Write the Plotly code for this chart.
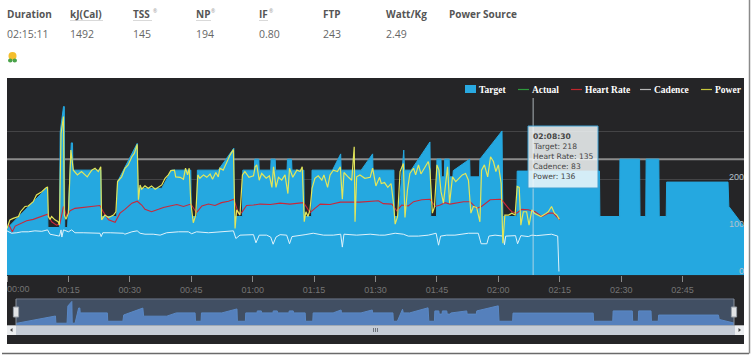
import plotly.graph_objects as go

W, H = 754, 357

# ---- data (minutes, watts / bpm / rpm) ----
target_t = [0,9.9,10,12.8,13.0,13.8,14.0,14.1,14.8,15.7,16.0,16.1,22.9,23.0,26.8,27,31.8,32,37.8,40.2,44.9,45,46.4,46.5,51.6,55.4,55.5,57.5,57.6,
            60.4,60.5,61.5,61.6,64.4,64.5,65.5,65.6,68.4,68.5,69.5,69.6,72.5,72.6,74.4,74.5,79.5,81.5,81.6,86.5,89.3,89.4,94.5,94.6,95.6,96.9,97.1,98.7,
            103.3,103.5,104.9,105,106,106.1,106.8,106.9,108,108.1,108.9,109,113,113.1,115.4,115.5,120.9,121.1,124.5,124.6,144.7,144.8,149.6,149.7,
            154.5,154.6,156,156.1,159.2,159.3,161,161.1,176.1,176.3,180]
target_v = [98,184,100,100,300,353,353,100,100,277,277,220,220,123,123,196,276,182,182,220,220,123,123,220,220,266,123,123,220,
            220,243,243,220,220,243,243,220,220,243,243,220,220,123,123,220,220,254,220,220,254,220,220,123,123,262,220,220,
            279,123,123,243,243,206,206,243,243,206,206,219,243,206,206,243,302,123,123,218,218,123,123,243,
            243,123,123,243,243,123,123,195,195,144,102]

power_t = [0,.7,1.5,2.8,3.3,4.4,5.2,6.4,7.2,8.5,9.4,9.9,10.1,10.5,10.9,11.7,12.5,12.8,13.2,13.8,14,14.4,15,15.6,16.2,17.2,18.2,19.6,20.7,21.5,22.3,22.9,23.1,23.9,24.8,26,26.6,27,28,28.8,
           29.6,30.5,31.1,31.8,32.1,32.5,32.9,33.7,34.5,35.3,36.2,37,37.8,38.6,39.4,40,40.9,41.2,42.3,43.1,43.6,44.1,44.5,44.9,45.5,46.1,46.6,47.1,48,48.8,49.6,50.2,51,51.6,52,52.8,53.7,54.5,55.3,55.7,56.1,56.9,57.5,58.1,59.1,60.2,
           60.6,61,61.6,62.2,63.3,64.1,64.7,65.1,65.7,66.3,67.1,67.9,68.6,69,69.8,70.8,71.6,72.1,72.6,73,73.5,74,74.5,75.2,76,76.9,77.4,78.3,78.9,79.7,80.7,81.4,81.9,82.3,83.4,84.2,84.8,85,85.4,86.2,87.4,88.7,89.3,90.1,91,
           91.4,92.2,93,93.8,94.4,94.8,95.4,96,96.8,97.2,97.8,98.4,99.3,99.8,100.5,101.1,102.1,102.9,103.3,103.9,104.4,105,105.5,106,106.6,107.2,107.6,108.1,108.8,109.6,110.4,111.2,112,112.7,113.3,113.9,114.7,115.5,115.9,116.6,117.4,118.1,118.8,119.4,120,120.7,
           121.1,121.6,122.5,123.3,124.1,124.6,125.1,125.5,126.1,126.9,127.5,128.2,128.8,129.6,130.4,131.4,132.2,133,133.7,134.3,134.9]
power_v = [98,116,119,123,133,144,145,154,168,175,182,185,123,117,123,116,112,105,297,332,126,117,130,262,220,210,217,206,220,224,217,227,116,126,121,126,133,196,206,224,
           231,248,255,274,158,189,180,187,182,187,180,184,189,203,210,219,220,206,205,201,224,210,224,151,110,126,210,203,210,205,212,201,215,206,224,220,238,252,263,98,137,126,210,217,205,208,
           227,231,199,213,203,208,184,227,184,205,199,210,171,224,205,220,217,227,112,133,123,137,182,203,208,199,210,184,210,220,217,227,159,215,205,199,269,112,206,210,203,205,224,187,205,
           192,194,184,192,151,107,123,217,234,121,178,213,224,210,231,212,227,238,220,130,143,231,220,175,151,199,227,151,206,196,203,210,213,199,130,144,142,112,220,231,206,248,238,217,231,192,
           67,126,126,130,126,186,184,105,133,133,105,137,130,126,123,128,133,144,130,126,117]

hr_t = [.3,1.3,2,3.2,4.8,6.4,8.1,9.9,10.9,12.1,12.9,13.8,14.6,15.4,16.6,18.6,20.7,22.7,23.5,24.8,26.4,27.6,28.8,
        30.5,31.8,32.9,33.7,35.3,37,38.2,39.8,41.5,43.1,44.9,46.3,47.6,49.2,50.8,52.4,54.1,55.4,56.5,57.3,58.5,60.2,
        61.8,64.3,66.7,69.1,72.4,73.2,74,75.2,76.5,78.9,81.4,83.8,86.2,90.7,
        91.9,94,95.2,96.4,98,99.3,101.3,103.3,104.6,105.8,107,108.2,109.8,111.5,113.1,114.7,115.9,118,120.4,
        120.8,122.5,123.3,124.5,125.7,127.3,128.5,129,130.6,132.2,133.4,135]
hr_v = [109,91,103,107,114,117,123,128,112,105,107,144,123,135,140,142,145,146,133,116,111,130,138,
        151,155,147,138,133,138,142,145,148,144,149,131,145,149,146,152,155,159,130,131,146,147,
        149,148,151,149,152,142,131,140,149,148,153,153,153,156,
        150,149,135,147,145,154,158,159,144,147,152,149,151,154,154,140,144,158,159,
        158,140,133,130,138,137,135,133,123,130,130,116]

cad_t = [0,1.1,2.4,3.6,5.2,6.8,8.5,9.9,10.5,11.7,12.8,13.2,13.4,13.8,15,15.8,16.6,18.6,21.1,22.7,23,23.4,25.2,26.8,28.4,
         28.8,30.5,31.8,32.5,33.7,35.7,37.4,39,41.9,44.3,45.1,46.3,49.2,52.4,55.3,55.9,56.9,60.2,
         60.8,61.6,63.4,64.4,65,65.7,66.7,68.3,69,69.6,71.6,72.8,74.8,77.3,79.7,81.5,81.9,82.3,85.4,88.7,91,
         92.3,94.8,96.8,98,100.5,102.9,104.8,105.4,105.9,107.4,109.4,112.7,115.1,115.8,117.2,117.7,119.2,121.2,
         121.5,121.8,123.7,124.2,124.7,125.5,127.3,128.2,129.4,131.4,133,134.5,134.7,134.8]
cad_v = [93,88,89,91,91,93,92,95,86,84,82,95,80,95,91,95,89,89,88,88,81,89,89,89,88,
         86,91,93,88,86,86,84,89,91,91,87,91,89,91,93,77,84,85,
         68,84,84,80,65,80,85,84,66,81,83,85,88,84,84,86,59,86,84,86,84,
         84,88,86,82,82,84,88,63,82,84,84,88,88,66,66,82,84,82,
         64,82,84,83,66,83,81,84,83,84,86,82,18,8]

x_tick_vals = [0,15,30,45,60,75,90,105,120,135,150,165]
x_tick_text = ["","00:15","00:30","00:45","01:00","01:15","01:30","01:45","02:00","02:15","02:30","02:45"]
y_tick_vals = [0,100,200,300]
y_tick_text = ["","100","200",""]
ftp_line = 243
cursor_t = 128.5

header_labels = ["Duration","kJ(Cal)","TSS","NP","IF","FTP","Watt/Kg","Power Source"]
header_values = ["02:15:11","1492","145","194","0.80","243","2.49",""]
header_x = [7,70,133,196,259,322.5,386,449]
header_marked = [False,True,True,True,True,False,False,False]

tooltip_lines = ["<b>02:08:30</b>","Target: 218","Heart Rate: 135","Cadence: 83","Power: 136"]
legend_names = ["Target","Actual","Heart Rate","Cadence","Power"]
legend_colors = ["#29a9e1","#2e9a3c","#c0272d","#b8b8b8","#c8c83c"]
legend_x = [465,518,571,640,701]

DARK = "#252527"
BLUE = "#25a8e0"
FONT = "Open Sans"

def px(x): return x / W
def py(y): return 1 - y / H

fig = go.Figure()
fig.add_trace(go.Scatter(x=target_t, y=target_v, name="Target", mode="lines", fill="tozeroy",
                         fillcolor=BLUE, line=dict(color=BLUE, width=1), showlegend=False))
fig.add_trace(go.Scatter(x=hr_t, y=hr_v, name="Heart Rate", mode="lines",
                         line=dict(color="#c9283a", width=1.1), showlegend=False))
fig.add_trace(go.Scatter(x=cad_t, y=cad_v, name="Cadence", mode="lines",
                         line=dict(color="#dff1f9", width=1), showlegend=False))
fig.add_trace(go.Scatter(x=power_t, y=power_v, name="Power", mode="lines",
                         line=dict(color="#e2e65a", width=1.2), showlegend=False))
fig.add_trace(go.Scatter(x=target_t, y=target_v, name="Navigator", mode="lines", fill="tozeroy",
                         fillcolor="#5580bc", line=dict(color="#5a88c4", width=1),
                         xaxis="x2", yaxis="y2", showlegend=False))

shapes = []
def rect(x0, y0, x1, y1, color, layer="below", line=None, lw=0):
    shapes.append(dict(type="rect", xref="paper", yref="paper", x0=px(x0), x1=px(x1), y0=py(y0), y1=py(y1),
                       fillcolor=color, line=dict(color=line or color, width=lw), layer=layer))
def hline(x0, x1, y, color, w=1, layer="above"):
    shapes.append(dict(type="line", xref="paper", yref="paper", x0=px(x0), x1=px(x1), y0=py(y), y1=py(y),
                       line=dict(color=color, width=w), layer=layer))
def vline(x, y0, y1, color, w=1, layer="above"):
    shapes.append(dict(type="line", xref="paper", yref="paper", x0=px(x), x1=px(x), y0=py(y0), y1=py(y1),
                       line=dict(color=color, width=w), layer=layer))

rect(7, 78, 744, 344, DARK)
hline(2, 749, 353.5, "#6a6a6a", 1.5)
vline(749.5, 0, 353.5, "#8a8a8a", 1.5)
rect(16, 298.7, 734, 325.3, "#414f63")
hline(16, 734, 299, "#6a7382", 1, "below")
rect(7, 325.3, 16, 335, "#eceef0", "above")
rect(16, 325.3, 735, 335, "#c5ccd6", "above")
rect(735, 325.3, 744, 335, "#eceef0", "above")
for gx in (373.5, 375.5, 377.5):
    vline(gx, 328, 332, "#6d737b", 1)
shapes.append(dict(type="path", xref="paper", yref="paper", layer="above", fillcolor="#444", line=dict(width=0),
                   path=f"M {px(10)} {py(330)} L {px(12.5)} {py(328)} L {px(12.5)} {py(332)} Z"))
shapes.append(dict(type="path", xref="paper", yref="paper", layer="above", fillcolor="#444", line=dict(width=0),
                   path=f"M {px(741)} {py(330)} L {px(738.5)} {py(328)} L {px(738.5)} {py(332)} Z"))
for hx in (16, 734):
    vline(hx, 299, 325, "#8b929c", 1)
    rect(hx - 2.6, 307, hx + 2.6, 317, "#e2e4e6", "above", "#9aa0a8", 1)
shapes.append(dict(type="line", xref="paper", yref="y", x0=px(7), x1=px(744), y0=ftp_line, y1=ftp_line,
                   line=dict(color="#8c8c8c", width=2), layer="below"))
shapes.append(dict(type="line", xref="x", yref="paper", x0=cursor_t, x1=cursor_t, y0=py(98), y1=py(275),
                   line=dict(color="rgba(215,225,230,0.75)", width=1), layer="above"))
rect(528, 126, 598, 188, "rgba(245,250,252,0.84)", "above", "#3f9fd0", 1)
shapes.append(dict(type="circle", xref="paper", yref="paper", x0=px(8.5), x1=px(16.5), y0=py(52), y1=py(60),
                   fillcolor="#f4be2c", line=dict(width=0), layer="above"))
shapes.append(dict(type="circle", xref="paper", yref="paper", x0=px(8), x1=px(12.5), y0=py(58.5), y1=py(62.5),
                   fillcolor="#4aa34a", line=dict(width=0), layer="above"))
shapes.append(dict(type="circle", xref="paper", yref="paper", x0=px(12.5), x1=px(17), y0=py(58.5), y1=py(62.5),
                   fillcolor="#4aa34a", line=dict(width=0), layer="above"))
for label, hx, marked in zip(header_labels, header_x, header_marked):
    if marked:
        hline(hx, hx + {"kJ(Cal)": 33, "TSS": 19, "NP": 15, "IF": 9}[label], 20.5, "#d9d9d9", 1)
rect(465, 85, 476, 93, legend_colors[0], "above")
for lx, c in zip(legend_x[1:], legend_colors[1:]):
    hline(lx, lx + 11, 89.5, c, 1.2)

ann = []
def text(x, y, s, size, color, family=FONT, anchor="left"):
    ann.append(dict(xref="paper", yref="paper", x=px(x), y=py(y), text=s, showarrow=False, xanchor=anchor,
                    yanchor="middle", font=dict(size=size, color=color, family=family), borderpad=0, borderwidth=0))

for label, val, hx in zip(header_labels, header_values, header_x):
    text(hx, 14, f"<b>{label}</b>", 10, "#555555")
    if val:
        text(hx, 34.5, val, 10.5, "#666666")
sup_pos = {"TSS": 152.5, "NP": 211, "IF": 268.5}
for k, sx in sup_pos.items():
    text(sx, 11, "®", 5, "#999999")
for name, lx in zip(legend_names, legend_x):
    text(lx + 14, 89.5, f"<b>{name}</b>", 9.5, "#ffffff", "Liberation Serif")
text(7, 289, "00:00", 9, "#747474", "Liberation Sans")
text(744, 271, "0", 9, "#b5c2cb", "Liberation Sans", "right")
for i, line in enumerate(tooltip_lines):
    text(533, 136 + 10 * i, line, 7.6, "#444444", "DejaVu Sans")

fig.update_layout(
    width=W, height=H, margin=dict(l=0, r=0, t=0, b=0), paper_bgcolor="#ffffff", plot_bgcolor="rgba(0,0,0,0)",
    showlegend=False, shapes=shapes, annotations=ann,
    xaxis=dict(domain=[px(7), px(744)], range=[0, 180], tickvals=x_tick_vals, ticktext=x_tick_text,
               ticks="outside", ticklen=6, tickcolor="#8a8a8a", tickwidth=1, showgrid=False, zeroline=False,
               showline=False, tickfont=dict(size=9, color="#747474", family="Liberation Sans"), anchor="y"),
    yaxis=dict(domain=[py(275.3), py(78)], range=[0, 197.3 / 0.478], tickvals=y_tick_vals, ticktext=y_tick_text,
               side="right", ticklabelposition="inside top", ticklabelstandoff=-3, ticklabelshift=3,
               gridcolor="#444446", gridwidth=1, zeroline=False,
               showline=False, tickfont=dict(size=9, color="#b5c2cb", family="Liberation Sans"), anchor="x"),
    xaxis2=dict(domain=[px(16), px(734)], range=[0, 180], visible=False, anchor="y2"),
    yaxis2=dict(domain=[py(325.3), py(298.7)], range=[76, 385], visible=False, anchor="x2"),
)
fig.write_html("out.html", config={"displayModeBar": False},
               post_script="document.body.style.margin='0';document.body.style.overflow='hidden';")
